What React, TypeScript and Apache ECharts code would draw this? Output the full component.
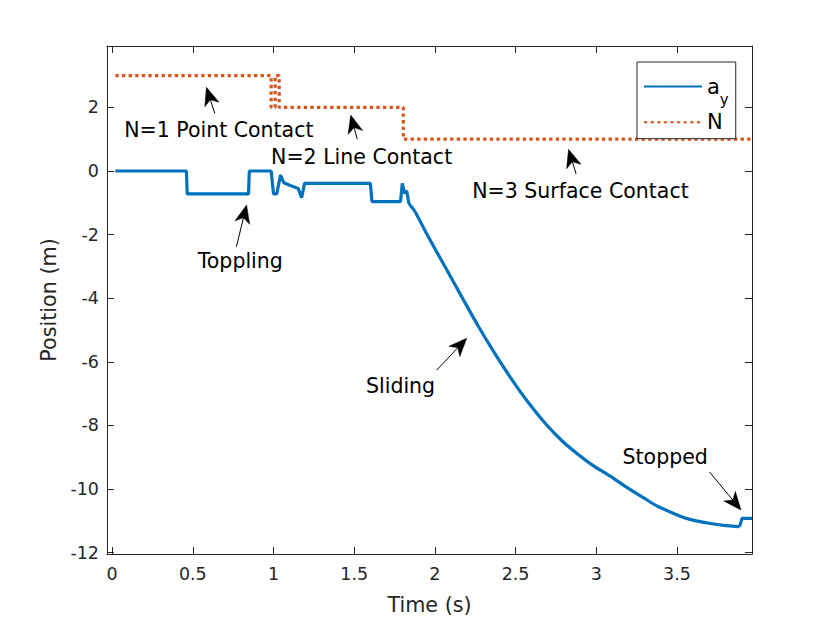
import React, { useEffect, useRef } from "react";
import * as echarts from "echarts";

// ---- data ----
// a_y: contact / toppling phase (piecewise, drawn straight)
const ayStepTime = [
  0.02, 0.46, 0.465, 0.845, 0.85, 0.985, 1.0, 1.02, 1.043, 1.064, 1.1, 1.153, 1.174, 1.192,
  1.6, 1.61, 1.787, 1.798, 1.812, 1.825, 1.838, 1.845,
];
const ayStepValue = [
  0, 0, -0.72, -0.72, 0, 0, -0.72, -0.72, -0.13, -0.37, -0.45, -0.55, -0.84, -0.39,
  -0.39, -0.96, -0.96, -0.39, -0.7, -0.62, -1.0, -1.07,
];
// a_y: sliding phase (smooth curve)
const aySlideTime = [
  1.845, 1.877, 1.959, 2.063, 2.166, 2.269, 2.373, 2.476, 2.579, 2.683, 2.787, 2.89, 2.983,
  3.107, 3.17, 3.314, 3.376, 3.52, 3.58, 3.707, 3.789, 3.888,
];
const aySlideValue = [
  -1.07, -1.28, -2.07, -3.01, -3.95, -4.88, -5.75, -6.55, -7.28, -7.93, -8.48, -8.92, -9.27,
  -9.66, -9.88, -10.34, -10.53, -10.85, -10.95, -11.08, -11.14, -11.18,
];
// a_y: stopped
const ayStopTime = [3.888, 3.903, 3.965];
const ayStopValue = [-11.18, -10.92, -10.92];

const nTime = [0.02, 0.985, 0.985, 1.01, 1.01, 1.035, 1.035, 1.804, 1.804, 3.965];
const nValue = [3, 3, 2, 2, 3, 3, 2, 2, 1, 1];

const xTicks = [0, 0.5, 1, 1.5, 2, 2.5, 3, 3.5];
const yTicks = [-12, -10, -8, -6, -4, -2, 0, 2];
const X_MIN = -0.032;
const X_MAX = 3.965;
const Y_MIN = -12.04;
const Y_MAX = 3.93;

const noteText = [
  "N=1 Point Contact",
  "N=2 Line Contact",
  "N=3 Surface Contact",
  "Toppling",
  "Sliding",
  "Stopped",
];
const noteX = [0.661, 1.546, 2.902, 0.794, 1.787, 3.427];
const noteY = [1.29, 0.456, -0.613, -2.83, -6.76, -8.99];
const tailX = [0.636, 1.519, 2.875, 0.77, 2.011, 3.702];
const tailY = [1.81, 0.997, -0.094, -2.38, -6.26, -9.46];
const headX = [0.584, 1.478, 2.828, 0.833, 2.197, 3.897];
const headY = [2.63, 1.76, 0.682, -1.07, -5.26, -10.66];

const FONT = "DejaVu Sans";
const AXIS = "#262626";
const BLUE = "#0072BD";
const ORANGE = "#D95319";

export default function App() {
  const ref = useRef<HTMLDivElement>(null);

  useEffect(() => {
    document.body.style.margin = "0";
    const chart = echarts.init(ref.current!, null, { renderer: "svg" });

    const pairs = (xs: number[], ys: number[]) => xs.map((t, i) => [t, ys[i]]);

    const axisLine = { show: true, onZero: false, lineStyle: { color: AXIS, width: 1 } };
    const xBase = {
      type: "value",
      min: X_MIN,
      max: X_MAX,
      axisLine,
      axisTick: { show: true, inside: true, length: 7, customValues: xTicks, lineStyle: { color: AXIS, width: 1 } },
      splitLine: { show: false },
    };
    const yBase = {
      type: "value",
      min: Y_MIN,
      max: Y_MAX,
      axisLine,
      axisTick: { show: true, inside: true, length: 7, customValues: yTicks, lineStyle: { color: AXIS, width: 1 } },
      splitLine: { show: false },
    };
    const labelStyle = { color: AXIS, fontSize: 17.5, fontFamily: FONT };
    const nameStyle = { color: AXIS, fontSize: 20.7, fontFamily: FONT };
    const blueLine = {
      type: "line",
      name: "a_y",
      xAxisIndex: 0,
      yAxisIndex: 0,
      symbol: "none",
      itemStyle: { color: BLUE },
      lineStyle: { color: BLUE, width: 3.2 },
    };

    chart.setOption({
      animation: false,
      backgroundColor: "#ffffff",
      grid: { left: 107, right: 78, top: 46, bottom: 69, outerBoundsMode: "none" },
      legend: {
        orient: "vertical",
        left: 637,
        top: 62,
        padding: [14, 7, 6, 6],
        itemGap: 4.7,
        itemWidth: 58,
        itemHeight: 14,
        backgroundColor: "#ffffff",
        borderColor: AXIS,
        borderWidth: 1,
        borderRadius: 0,
        data: ["a_y", "N"],
        itemStyle: { color: "rgba(0,0,0,0)", borderColor: "rgba(0,0,0,0)", borderWidth: 0, opacity: 0 },
        formatter: (name: string) => (name === "a_y" ? "{main|a}{sub|y}" : "{main|N}"),
        textStyle: {
          color: "#000",
          fontFamily: FONT,
          fontSize: 21,
          rich: {
            main: { fontSize: 21, fontFamily: FONT, color: "#000", lineHeight: 22, verticalAlign: "middle" },
            sub: { fontSize: 15, fontFamily: FONT, color: "#000", padding: [26, 0, 0, 0], verticalAlign: "middle" },
          },
        },
      },
      xAxis: [
        {
          ...xBase,
          position: "bottom",
          axisLabel: { ...labelStyle, customValues: xTicks, margin: 11 },
          name: "Time (s)",
          nameLocation: "middle",
          nameGap: 40,
          nameTextStyle: nameStyle,
        },
        { ...xBase, position: "top", axisLabel: { show: false } },
      ],
      yAxis: [
        {
          ...yBase,
          position: "left",
          axisLabel: { ...labelStyle, customValues: yTicks, margin: 8 },
          name: "Position (m)",
          nameLocation: "middle",
          nameGap: 39,
          nameTextStyle: nameStyle,
        },
        { ...yBase, position: "right", axisLabel: { show: false } },
      ],
      series: [
        { ...blueLine, data: pairs(ayStepTime, ayStepValue) },
        { ...blueLine, data: pairs(aySlideTime, aySlideValue), smooth: 0.3 },
        { ...blueLine, data: pairs(ayStopTime, ayStopValue) },
        {
          type: "line",
          name: "N",
          data: pairs(nTime, nValue),
          xAxisIndex: 0,
          yAxisIndex: 0,
          symbol: "none",
          itemStyle: { color: ORANGE },
          lineStyle: { color: ORANGE, width: 3.2, type: [3.3, 3.3] },
        },
      ],
    });

    // annotations positioned through the axes' scales
    const toPx = (x: number, y: number) =>
      chart.convertToPixel({ xAxisIndex: 0, yAxisIndex: 0 }, [x, y]) as number[];
    const elements: any[] = [];
    noteText.forEach((txt, i) => {
      const t = toPx(noteX[i], noteY[i]);
      const a = toPx(tailX[i], tailY[i]);
      const h = toPx(headX[i], headY[i]);
      const dx = h[0] - a[0];
      const dy = h[1] - a[1];
      const len = Math.hypot(dx, dy) || 1;
      const ux = dx / len;
      const uy = dy / len;
      const nx = -uy;
      const ny = ux;
      const L = 18;
      const W = 7.5;
      const back = [h[0] - ux * L, h[1] - uy * L];
      const notch = [h[0] - ux * L * 0.72, h[1] - uy * L * 0.72];
      elements.push({
        type: "text",
        x: t[0],
        y: t[1],
        z: 100,
        style: { text: txt, fill: "#000", fontSize: 20.5, fontFamily: FONT, align: "center", verticalAlign: "middle" },
      });
      elements.push({
        type: "line",
        z: 100,
        shape: { x1: a[0], y1: a[1], x2: notch[0], y2: notch[1] },
        style: { stroke: "#000", lineWidth: 1 },
      });
      elements.push({
        type: "polygon",
        z: 100,
        shape: {
          points: [
            [h[0], h[1]],
            [back[0] + nx * W, back[1] + ny * W],
            [notch[0], notch[1]],
            [back[0] - nx * W, back[1] - ny * W],
          ],
        },
        style: { fill: "#000", stroke: "#000", lineWidth: 0.5 },
      });
    });
    chart.setOption({ graphic: { elements } });

    return () => chart.dispose();
  }, []);

  return <div ref={ref} style={{ width: 830, height: 623 }} />;
}
